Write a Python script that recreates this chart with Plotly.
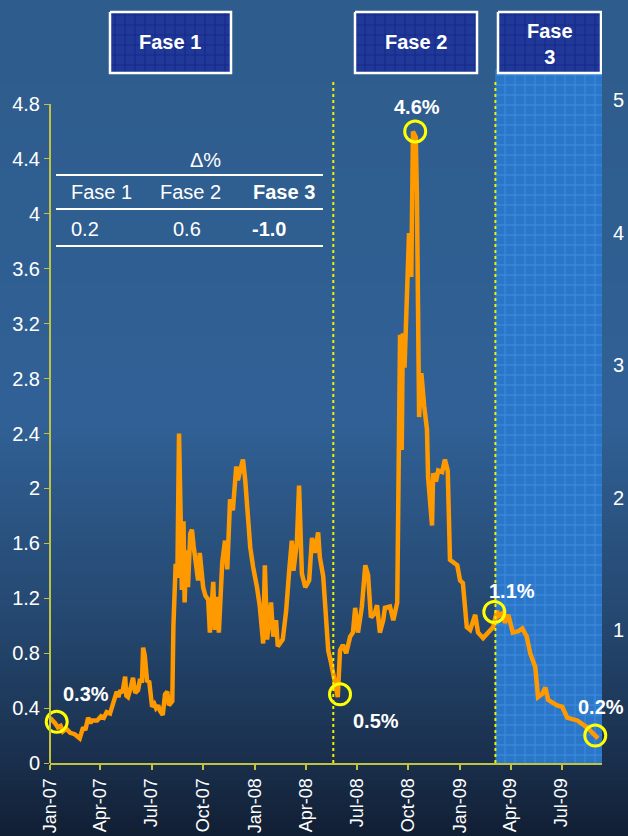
import plotly.graph_objects as go
import numpy as np

# ---------------- data ----------------
dates = [
 "2007-01-01","2007-01-06","2007-01-10","2007-01-15","2007-01-20","2007-01-24","2007-01-30","2007-02-06",
 "2007-02-14","2007-02-23","2007-03-01","2007-03-05","2007-03-10","2007-03-14","2007-03-17","2007-03-26",
 "2007-04-02","2007-04-07","2007-04-12","2007-04-18","2007-04-23","2007-04-27","2007-04-30","2007-05-03",
 "2007-05-06","2007-05-10","2007-05-15","2007-05-17","2007-05-20","2007-05-25","2007-05-29","2007-06-02",
 "2007-06-07","2007-06-10","2007-06-14","2007-06-16","2007-06-19","2007-06-23","2007-06-27","2007-07-02",
 "2007-07-06","2007-07-09","2007-07-13","2007-07-16","2007-07-21","2007-07-25","2007-07-29","2007-08-01",
 "2007-08-03","2007-08-07","2007-08-09","2007-08-13","2007-08-16","2007-08-19","2007-08-22","2007-08-24",
 "2007-08-27","2007-08-29","2007-09-01","2007-09-04","2007-09-08","2007-09-11","2007-09-14","2007-09-17",
 "2007-09-22","2007-09-25","2007-10-01","2007-10-05","2007-10-10","2007-10-13","2007-10-16","2007-10-19",
 "2007-10-22","2007-10-26","2007-10-29","2007-11-04","2007-11-09","2007-11-13","2007-11-18","2007-11-23",
 "2007-11-29","2007-12-02","2007-12-06","2007-12-11","2007-12-15","2007-12-18","2007-12-24","2007-12-29",
 "2008-01-02","2008-01-05","2008-01-10","2008-01-16","2008-01-19","2008-01-23","2008-01-30","2008-02-03",
 "2008-02-08","2008-02-11","2008-02-20","2008-02-26","2008-03-02","2008-03-07","2008-03-10","2008-03-16",
 "2008-03-20","2008-03-25","2008-03-31","2008-04-07","2008-04-12","2008-04-17","2008-04-23","2008-04-26",
 "2008-05-02","2008-05-05","2008-05-09","2008-05-11","2008-05-16","2008-05-22","2008-05-28","2008-06-01",
 "2008-06-06","2008-06-12","2008-06-19","2008-06-24","2008-06-28","2008-07-03","2008-07-10","2008-07-16",
 "2008-07-21","2008-07-26","2008-08-02","2008-08-06","2008-08-11","2008-08-17","2008-08-20","2008-08-29",
 "2008-09-04","2008-09-11","2008-09-14","2008-09-16","2008-09-19","2008-09-21","2008-09-24","2008-09-28",
 "2008-10-02","2008-10-06","2008-10-09","2008-10-14","2008-10-16","2008-10-20","2008-10-24","2008-10-29",
 "2008-11-03","2008-11-05","2008-11-12","2008-11-14","2008-11-19","2008-11-23","2008-11-30","2008-12-05",
 "2008-12-10","2008-12-14","2008-12-27","2009-01-01","2009-01-06","2009-01-13","2009-01-19","2009-01-28",
 "2009-02-02","2009-02-11","2009-02-18","2009-02-23","2009-03-01","2009-03-08","2009-03-10","2009-03-17",
 "2009-03-22","2009-03-28","2009-04-05","2009-04-15","2009-04-22","2009-04-30","2009-05-06","2009-05-15",
 "2009-05-20","2009-05-27","2009-06-02","2009-06-07","2009-06-15","2009-06-23","2009-07-02","2009-07-11",
 "2009-07-20","2009-07-29","2009-08-15","2009-09-04",
]
values = [
 0.33,0.31,0.29,0.26,0.27,0.23,0.25,0.22,
 0.21,0.18,0.26,0.24,0.33,0.29,0.31,0.31,
 0.34,0.33,0.37,0.36,0.42,0.47,0.52,0.48,
 0.53,0.51,0.63,0.49,0.48,0.55,0.62,0.51,
 0.53,0.60,0.60,0.84,0.78,0.60,0.59,0.41,
 0.43,0.40,0.42,0.38,0.35,0.50,0.52,0.42,
 0.43,0.45,1.00,1.45,1.35,2.40,1.77,1.26,
 1.76,1.17,1.55,1.28,1.67,1.70,1.58,1.50,
 1.33,1.53,1.28,1.22,1.19,0.95,1.15,1.32,
 0.97,1.21,0.95,1.46,1.62,1.41,1.92,1.84,
 2.16,2.06,2.13,2.21,2.06,1.89,1.57,1.43,
 1.35,1.28,1.14,0.87,1.44,0.90,1.17,0.92,
 1.04,0.85,0.90,1.11,1.38,1.62,1.40,1.60,
 2.02,1.38,1.28,1.33,1.64,1.53,1.68,1.50,
 1.36,1.17,1.04,0.82,0.73,0.58,0.48,0.82,
 0.86,0.80,0.92,0.95,1.13,0.95,1.14,1.44,
 1.37,1.06,1.09,1.15,0.95,1.04,1.13,1.14,
 1.04,1.17,2.26,3.12,2.28,3.13,2.88,3.52,
 3.86,3.54,4.60,4.56,4.15,2.52,2.84,2.60,
 2.43,2.08,1.73,2.11,2.05,2.13,2.12,2.21,
 2.13,1.48,1.44,1.33,1.31,0.99,0.97,1.08,
 0.95,0.91,0.94,0.97,0.99,1.11,1.07,1.09,
 1.02,1.08,0.95,0.96,0.98,0.92,0.80,0.70,
 0.48,0.50,0.55,0.46,0.44,0.42,0.41,0.33,
 0.32,0.31,0.26,0.18,
]

highlight_dates = ["2007-01-13", "2008-06-01", "2008-10-13", "2009-03-03", "2009-08-30"]
highlight_values = [0.3, 0.5, 4.6, 1.1, 0.2]
highlight_offsets = [(29, 28), (36, -27), (2, 24), (18, 21), (6, 29)]  # label shift in px

phase_names = ["Fase 1", "Fase 2", "Fase 3"]
phase_changes = [0.2, 0.6, -1.0]
phase2_start = "2008-05-20"
phase3_start = "2009-03-05"
x_start, x_end = "2007-01-01", "2009-09-11"

xtick_vals = ["2007-01-01","2007-04-01","2007-07-01","2007-10-01","2008-01-01","2008-04-01",
              "2008-07-01","2008-10-01","2009-01-01","2009-04-01","2009-07-01"]
xtick_text = ["Jan-07","Apr-07","Jul-07","Oct-07","Jan-08","Apr-08",
              "Jul-08","Oct-08","Jan-09","Apr-09","Jul-09"]
ytick_vals = [round(0.4 * i, 1) for i in range(13)]
y2tick_vals = [1, 2, 3, 4, 5]

# ---------------- layout constants ----------------
W, H = 628, 836
ML, MR, MT, MB = 50, 26, 0, 73
PW, PH = W - ML - MR, H - MT - MB
PX_PER_UNIT = 137.29
Y_TOP = PH / PX_PER_UNIT
Y2_TOP = PH / 132.6
FONT = "Liberation Sans, Arial, sans-serif"
AXIS_COL = "#c2c240"
ORANGE = "#ff9900"

fig = go.Figure()

# Fase 3 shaded band (pattern)
band_top = (PH - 69) / PX_PER_UNIT
fig.add_trace(go.Scatter(
    x=[phase3_start, x_end, x_end, phase3_start, phase3_start],
    y=[0, 0, band_top, band_top, 0],
    mode="lines", line=dict(width=0), fill="toself",
    fillcolor="#2c78ca",
    fillpattern=dict(shape="+", fgcolor="#58a4f6", bgcolor="#2a76c8", size=10, solidity=0.18),
    hoverinfo="skip", showlegend=False))

# main series
fig.add_trace(go.Scatter(x=dates, y=values, mode="lines",
                         line=dict(color=ORANGE, width=4.5), showlegend=False))

# highlight circles
fig.add_trace(go.Scatter(x=highlight_dates, y=highlight_values, mode="markers",
                         marker=dict(symbol="circle-open", size=21, color="#ffff00",
                                     line=dict(width=3, color="#ffff00")),
                         showlegend=False, cliponaxis=False))

# dummy trace for right axis
fig.add_trace(go.Scatter(x=[x_start], y=[None], yaxis="y2", showlegend=False, hoverinfo="skip"))

# Phase boxes in pixel space
boxes = [(110, 231, 12, 73), (355, 477, 12, 73), (498, 601, 12, 73)]
for (x0, x1, y0, y1) in boxes:
    fig.add_trace(go.Scatter(
        x=[x0, x1, x1, x0, x0], y=[y0, y0, y1, y1, y0],
        xaxis="x3", yaxis="y3", mode="lines",
        line=dict(color="white", width=2.5), fill="toself",
        fillcolor="#1f3594",
        fillpattern=dict(shape="+", fgcolor="#0a1a7e", bgcolor="#203898", size=10, solidity=0.2),
        hoverinfo="skip", showlegend=False))

shapes = []
# background gradient
stops_px = [0, 420, 620, 763, 836]
stops_col = [(46, 92, 140), (49, 97, 150), (37, 72, 112), (26, 47, 76), (17, 31, 52)]
strip = 6
for y in range(0, H, strip):
    yc = y + strip / 2
    c = [int(np.interp(yc, stops_px, [s[k] for s in stops_col])) for k in range(3)]
    shapes.append(dict(type="rect", xref="paper", yref="paper",
                       x0=-ML / PW - 0.01, x1=1 + MR / PW + 0.01,
                       y0=(PH - (y + strip + 1)) / PH, y1=(PH - y) / PH,
                       fillcolor=f"rgb({c[0]},{c[1]},{c[2]})", line=dict(width=0), layer="below"))

# left axis line
shapes.append(dict(type="line", xref="paper", yref="y", x0=0, x1=0, y0=0, y1=4.8,
                   line=dict(color=AXIS_COL, width=2), layer="above"))
# phase separators
for d in [phase2_start, phase3_start]:
    shapes.append(dict(type="line", xref="x", yref="y", x0=d, x1=d, y0=0, y1=(PH - 82) / PX_PER_UNIT,
                       line=dict(color="#f0f000", width=2, dash="dot"), layer="above"))
# table lines
for yy in [175, 209, 246]:
    shapes.append(dict(type="line", xref="x3", yref="y3", x0=56, x1=323, y0=yy, y1=yy,
                       line=dict(color="white", width=2), layer="above"))

annotations = []
# box texts
for name, cx, cy in [(phase_names[0], 170, 42), (phase_names[1], 416, 42), ("Fase<br>3", 550, 44)]:
    annotations.append(dict(x=cx, y=cy, xref="x3", yref="y3", text=f"<b>{name}</b>", showarrow=False,
                            font=dict(family=FONT, size=20, color="white")))
# table
annotations.append(dict(x=205, y=160, xref="x3", yref="y3", text="Δ%", showarrow=False,
                        font=dict(family=FONT, size=20, color="white")))
for i, (name, cx) in enumerate(zip(phase_names, [101, 190, 284])):
    bold = i == 2
    annotations.append(dict(x=cx, y=192, xref="x3", yref="y3",
                            text=f"<b>{name}</b>" if bold else name, showarrow=False,
                            font=dict(family=FONT, size=20, color="white")))
for i, (v, cx) in enumerate(zip(phase_changes, [85, 187, 269])):
    bold = i == 2
    t = f"{v:.1f}"
    annotations.append(dict(x=cx, y=229, xref="x3", yref="y3",
                            text=f"<b>{t}</b>" if bold else t, showarrow=False,
                            font=dict(family=FONT, size=20, color="white")))
# highlight labels
for d, v, (dx, dy) in zip(highlight_dates, highlight_values, highlight_offsets):
    annotations.append(dict(x=d, y=v, xref="x", yref="y", text=f"<b>{v:.1f}%</b>", showarrow=False,
                            xshift=dx, yshift=dy, font=dict(family=FONT, size=20, color="white")))

fig.update_layout(
    width=W, height=H, margin=dict(l=ML, r=MR, t=MT, b=MB, pad=0, autoexpand=False),
    paper_bgcolor="rgb(17,31,52)", plot_bgcolor="rgba(0,0,0,0)",
    font=dict(family=FONT, color="white", size=20),
    showlegend=False,
    xaxis=dict(type="date", range=[x_start, x_end], tickvals=xtick_vals, ticktext=xtick_text,
               tickangle=-90, ticks="outside", ticklen=5, tickcolor=AXIS_COL, tickwidth=2,
               showline=True, linecolor=AXIS_COL, linewidth=2, showgrid=False, zeroline=False,
               automargin=False, ticklabelstandoff=1,
               tickfont=dict(family=FONT, size=18, color="white")),
    yaxis=dict(range=[0, Y_TOP], tickvals=ytick_vals, ticks="outside", ticklen=5, tickcolor=AXIS_COL,
               tickwidth=1, showline=False, showgrid=False, zeroline=False, automargin=False,
               tickfont=dict(family=FONT, size=20, color="white")),
    yaxis2=dict(range=[0, Y2_TOP], overlaying="y", side="right", tickvals=y2tick_vals,
                ticks="", showgrid=False, zeroline=False, showline=False, ticklabelstandoff=10,
                automargin=False, tickfont=dict(family=FONT, size=20, color="white")),
    xaxis3=dict(range=[ML, W - MR], overlaying="x", visible=False, anchor="y3"),
    yaxis3=dict(range=[PH, 0], overlaying="y", visible=False, anchor="x3"),
    shapes=shapes, annotations=annotations,
)

fig.write_html("out.html")
